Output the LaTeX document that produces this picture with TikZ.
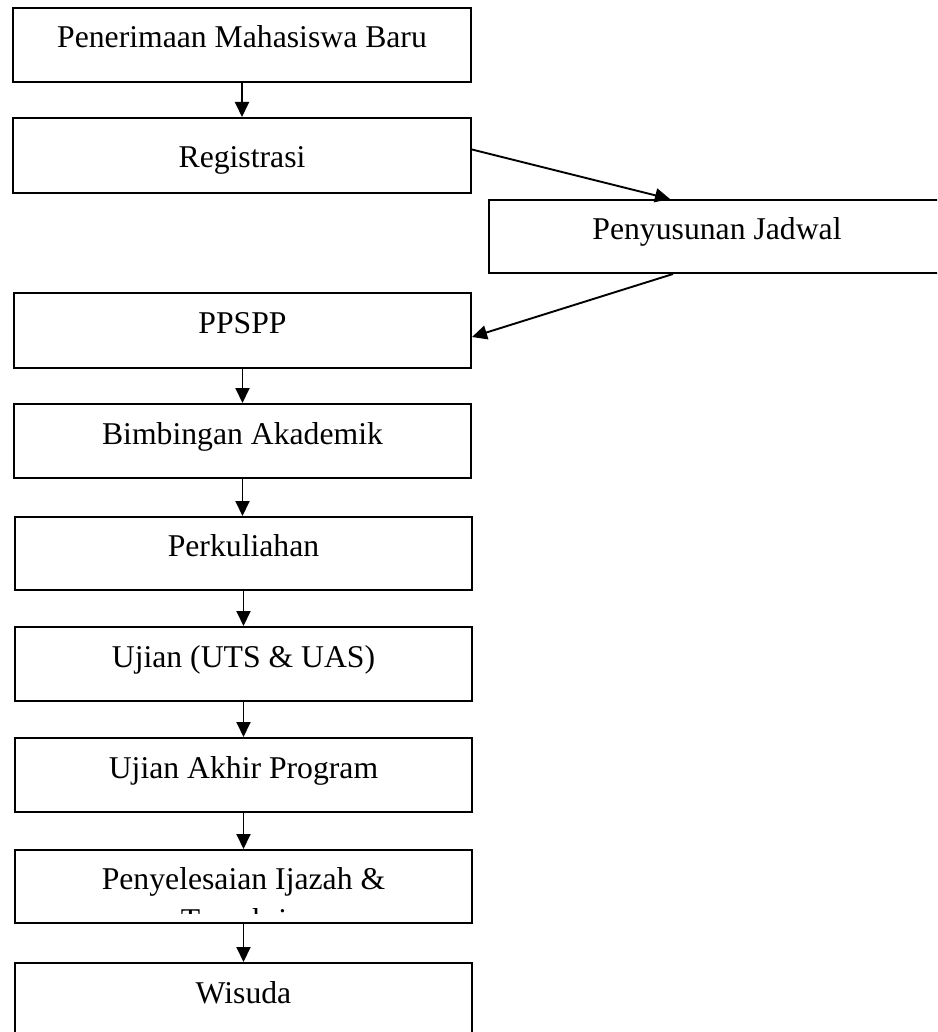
\documentclass[tikz,border=0pt]{standalone}
\usepackage{fontspec}
\setmainfont{Liberation Serif}
\usetikzlibrary{arrows.meta}
\begin{document}
\begin{tikzpicture}[x=1pt,y=-1pt,
  box/.style={draw, line width=2pt, inner sep=0pt, minimum width=457pt,
    minimum height=74pt, anchor=north west, text height=22pt, text depth=16pt,
    font=\fontsize{31.7}{37}\selectfont},
  txt/.style={inner sep=0pt, anchor=base, font=\fontsize{31.7}{37}\selectfont},
  flow/.style={line width=1.9pt, -{Triangle[width=14pt,length=15pt]}}]
\useasboundingbox (0,0) rectangle (937,1032);
\clip (0,0) rectangle (937,1032);

\node[box, minimum width=458pt] (p1) at (12,7) {Penerimaan Mahasiswa Baru};
\node[box, minimum width=458pt, minimum height=75pt, text height=34pt, text depth=9pt] (reg) at (12,117) {Registrasi};
\node[box, minimum width=456pt, minimum height=73pt] (pjd) at (488,199) {Penyusunan Jadwal};
\node[box, minimum height=75pt, minimum width=457pt] (ppspp) at (13,292) {PPSPP};
\node[box] (bim) at (13,403) {Bimbingan Akademik};
\node[box, minimum height=73pt] (kul) at (14,516) {Perkuliahan};
\node[box] (uji) at (14,626) {Ujian (UTS \& UAS)};
\node[box] (akh) at (14,737) {Ujian Akhir Program};
\node[box, minimum height=73pt] (sel) at (14,849) {Penyelesaian Ijazah \&};
\node[box] (wis) at (14,962) {Wisuda};

\begin{scope}
  \clip (14,849) rectangle (470,913);
  \node[txt] (trk) at (242,930) {Transkrip};
\end{scope}

\draw[flow] (p1.south) -- (p1.south |- reg.north);
\draw[flow] ([yshift=6pt]reg.east) -- ([xshift=182pt]pjd.north west);
\draw[flow] ([xshift=185pt]pjd.south west) -- ([yshift=-6.5pt]ppspp.east);
\draw[flow] (ppspp.south) -- (ppspp.south |- bim.north);
\draw[flow] (bim.south) -- (bim.south |- kul.north);
\draw[flow] (kul.south) -- (kul.south |- uji.north);
\draw[flow] (uji.south) -- (uji.south |- akh.north);
\draw[flow] (akh.south) -- (akh.south |- sel.north);
\draw[flow] (sel.south) -- (sel.south |- wis.north);
\end{tikzpicture}
\end{document}
